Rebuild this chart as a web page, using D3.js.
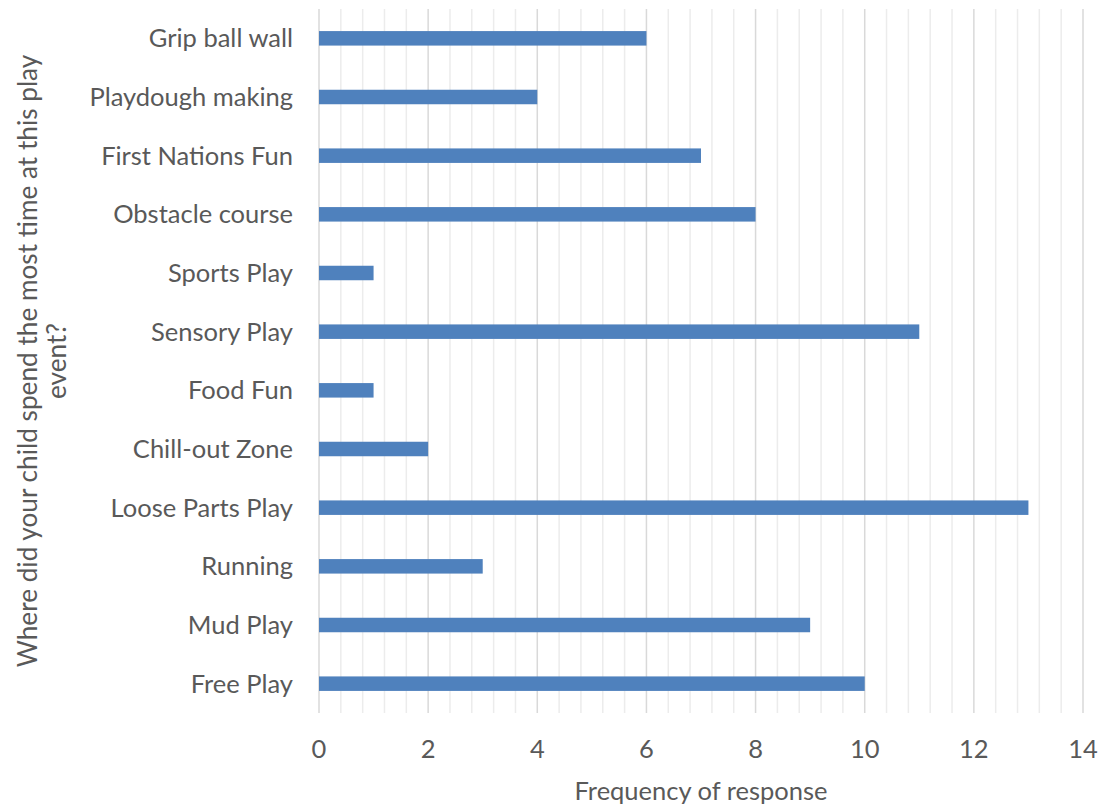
<!DOCTYPE html>
<html><head><meta charset="utf-8">
<script src="https://cdn.jsdelivr.net/npm/d3@7"></script>
<style>body{margin:0;background:#fff;} text{font-family:Lato,"Open Sans",sans-serif;}</style>
</head><body>
<svg id="c" width="1103" height="807"></svg>
<script>
const categories = ["Grip ball wall","Playdough making","First Nations Fun","Obstacle course","Sports Play","Sensory Play","Food Fun","Chill-out Zone","Loose Parts Play","Running","Mud Play","Free Play"];
const values = [6,4,7,8,1,11,1,2,13,3,9,10];
const xTicks = [0,2,4,6,8,10,12,14];
const xTitle = "Frequency of response";
const yTitleLines = ["Where did your child spend the most time at this play","event?"];

const svg = d3.select("#c");
const m = {left:319, right:1083, top:9, bottom:713};
const x = d3.scaleLinear().domain([0,14]).range([m.left, m.right]);
const y = d3.scaleBand().domain(categories).range([m.top, m.bottom]);
const fs = 25.5;

const minor = d3.range(0, 14.001, 0.4).filter(v => Math.abs(v/2 - Math.round(v/2)) > 1e-6);
svg.append("g").selectAll("line").data(minor).join("line")
  .attr("x1", d=>x(d)).attr("x2", d=>x(d)).attr("y1", m.top).attr("y2", m.bottom)
  .attr("stroke","#ececec").attr("stroke-width",1.5);
svg.append("g").selectAll("line").data(xTicks).join("line")
  .attr("x1", d=>x(d)).attr("x2", d=>x(d)).attr("y1", m.top).attr("y2", m.bottom)
  .attr("stroke","#d9d9d9").attr("stroke-width",1.5);

const bh = 14.5;
svg.append("g").selectAll("rect").data(categories).join("rect")
  .attr("x", x(0)).attr("y", (d)=>y(d)+y.bandwidth()/2-bh/2)
  .attr("width", (d,i)=>x(values[i])-x(0)).attr("height", bh)
  .attr("fill","#4f81bd");

svg.append("g").selectAll("text").data(categories).join("text")
  .attr("x", 293).attr("y", d=>y(d)+y.bandwidth()/2).attr("dy","0.35em")
  .attr("text-anchor","end").attr("font-size",fs).attr("fill","#595959").text(d=>d);

svg.append("g").selectAll("text").data(xTicks).join("text")
  .attr("x", d=>x(d)).attr("y", 749).attr("dy","0.35em")
  .attr("text-anchor","middle").attr("font-size",fs).attr("fill","#595959").text(d=>d);

svg.append("text").attr("x", 701).attr("y", 791).attr("dy","0.35em")
  .attr("text-anchor","middle").attr("font-size",fs).attr("fill","#595959").text(xTitle);

const yt = svg.append("text").attr("transform","translate(0,361) rotate(-90)")
  .attr("text-anchor","middle").attr("font-size",26.2).attr("fill","#595959");
yTitleLines.forEach((t,i)=>yt.append("tspan").attr("x",0).attr("y", 37 + i*29).text(t));
</script>
</body></html>
